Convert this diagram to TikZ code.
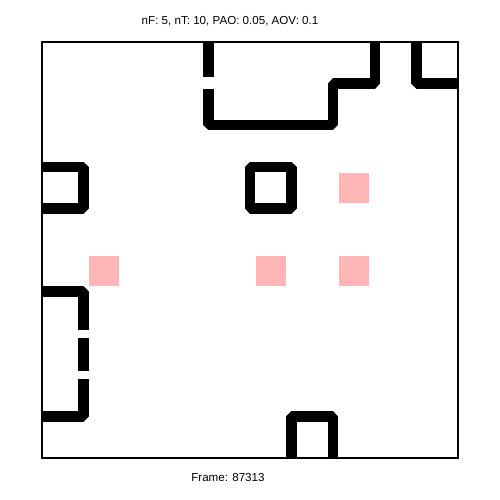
\documentclass[tikz,border=0pt]{standalone}
\usepackage{fontspec}
\setmainfont{Liberation Sans}
\usepackage{xcolor}
\usepackage{tikz}
\usetikzlibrary{positioning}
\definecolor{cellpink}{HTML}{FFB6B6}

\begin{document}
\begin{tikzpicture}[
        x=0.832cm, y=-0.832cm,
        wall/.style={line width=0.21cm, black, line join=bevel},
        outline/.style={draw, line width=0.6pt},
        cell/.style={fill=cellpink, minimum size=0.6cm, inner sep=0pt},
        caption/.style={font=\fontsize{6.6}{8}\selectfont, inner sep=0pt}
      ]
        \useasboundingbox (-1.0096,-1.0096) rectangle (11.0096,11.0096);
        % pink cells
        \node[cell] (cA) at (1.5,5.5) {};
        \node[cell] (cB) at (5.5,5.5) {};
        \node[cell] (cC) at (7.5,5.5) {};
        \node[cell] (cD) at (7.5,3.5) {};
        % walls
        \draw[wall] (4,0) -- (4,0.84);
        \draw[wall] (4,1.13) -- (4,2) -- (7,2) -- (7,1) -- (8,1) -- (8,0);
        \draw[wall] (9,0) -- (9,1) -- (10,1);
        \draw[wall] (0,3) -- (1,3) -- (1,4) -- (0,4);
        \draw[wall] (5,3) -- (6,3) -- (6,4) -- (5,4) -- cycle;
        \draw[wall] (0,6) -- (1,6) -- (1,6.93);
        \draw[wall] (1,7.12) -- (1,7.9);
        \draw[wall] (1,8.1) -- (1,9) -- (0,9);
        \draw[wall] (6,10) -- (6,9) -- (7,9) -- (7,10);
        % frame and texts
        \draw[outline] (0,0) rectangle (10,10);
        \node[caption] (title) at (4.52,-0.505) {nF: 5, nT: 10, PAO: 0.05, AOV: 0.1};
        \node[caption] (frameno) at (4.47,10.48) {Frame: 87313};
      \end{tikzpicture}
\end{document}
